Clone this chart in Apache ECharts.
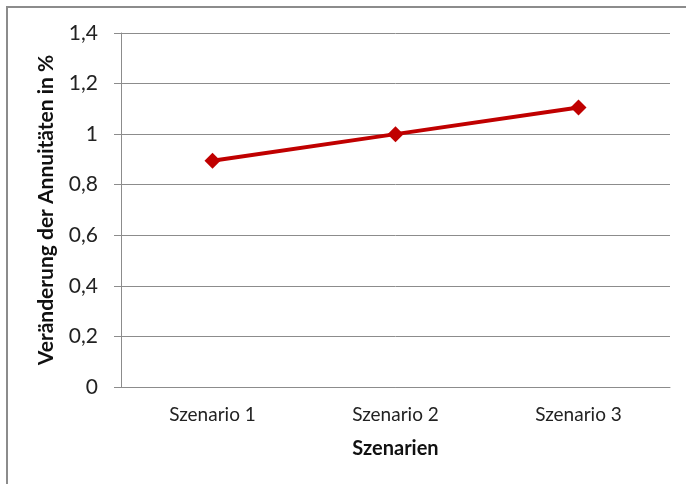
<!DOCTYPE html>
<html>
<head>
<meta charset="utf-8">
<script src="https://cdn.jsdelivr.net/npm/echarts@6/dist/echarts.min.js"></script>
<style>
  html, body { margin: 0; padding: 0; background: #fff; }
  #chart { width: 686px; height: 484px; }
</style>
</head>
<body>
<div id="chart"></div>
<script>
// Scenario names and the relative change in annuities (%)
const scenarios = ['Szenario 1', 'Szenario 2', 'Szenario 3'];
const annuityChange = [0.895, 1.0, 1.105];
const yTicks = { min: 0, max: 1.4, step: 0.2 };

const font = 'Lato, "Open Sans", sans-serif';
const chart = echarts.init(document.getElementById('chart'), null, { renderer: 'canvas' });

chart.setOption({
  animation: false,
  backgroundColor: '#ffffff',
  graphic: [{
    type: 'rect',
    shape: { x: 7, y: 7, width: 700, height: 500 },
    style: { fill: 'none', stroke: '#8c8c8c', lineWidth: 2 },
    silent: true
  }],
  grid: { left: 121, right: 16, top: 33, bottom: 97, containLabel: false },
  xAxis: {
    type: 'category',
    data: scenarios,
    boundaryGap: true,
    name: 'Szenarien',
    nameLocation: 'middle',
    nameGap: 52,
    nameTextStyle: { fontFamily: font, fontSize: 20, fontWeight: 'bold', color: '#111' },
    axisLine: { lineStyle: { color: '#8c8c8c', width: 1 } },
    axisTick: { show: false },
    axisLabel: { fontFamily: font, fontSize: 19, color: '#222', margin: 18 },
    splitLine: { show: false }
  },
  yAxis: {
    type: 'value',
    min: yTicks.min,
    max: yTicks.max,
    interval: yTicks.step,
    name: 'Veränderung der Annuitäten in %',
    nameLocation: 'middle',
    nameGap: 64,
    nameRotate: 90,
    nameTextStyle: { fontFamily: font, fontSize: 21, fontWeight: 'bold', color: '#111' },
    axisLine: { show: true, lineStyle: { color: '#8c8c8c', width: 1 } },
    axisTick: { show: true, inside: false, length: 7, lineStyle: { color: '#8c8c8c' } },
    axisLabel: {
      fontFamily: font, fontSize: 21, color: '#222', margin: 23,
      formatter: v => String(Math.round(v * 10) / 10).replace('.', ',')
    },
    splitLine: { show: true, lineStyle: { color: '#8c8c8c', width: 1 } }
  },
  series: [{
    type: 'line',
    data: annuityChange,
    symbol: 'diamond',
    symbolSize: 16,
    lineStyle: { color: '#c00000', width: 4 },
    itemStyle: { color: '#c00000' },
    z: 3
  }]
});
</script>
</body>
</html>
